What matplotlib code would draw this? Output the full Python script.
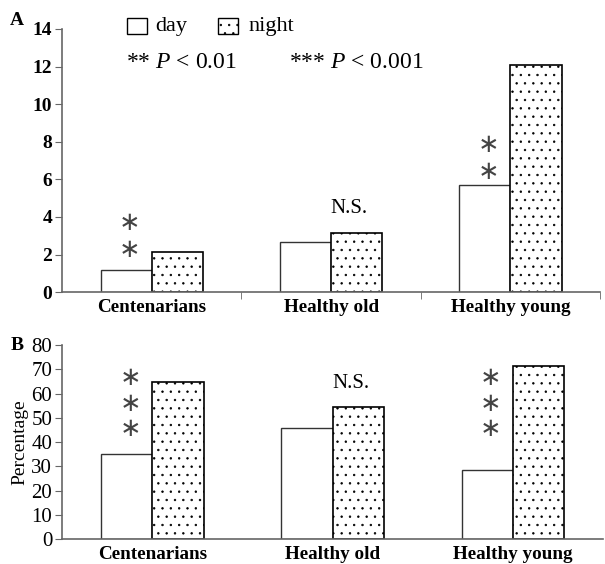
#!/usr/bin/env python3

import numpy as np
import matplotlib
matplotlib.use('Agg')
import matplotlib.pyplot as plt
from matplotlib.patches import Rectangle

groups = ['Centenarians', 'Healthy old', 'Healthy young']
day_a = [1.17, 2.68, 5.69]
night_a = [2.14, 3.15, 12.1]
day_b = [35.0, 45.9, 28.5]
night_b = [64.9, 54.3, 71.4]
stars_a = ['**', 'N.S.', '**']
stars_b = ['***', 'N.S.', '***']

plt.rcParams['font.family'] = ['Liberation Serif', 'DejaVu Serif']
plt.rcParams['hatch.linewidth'] = 0.5
plt.rcParams['mathtext.fontset'] = 'custom'
plt.rcParams['mathtext.it'] = 'Liberation Serif:italic'
plt.rcParams['mathtext.rm'] = 'Liberation Serif'

fig = plt.figure(figsize=(6.05, 5.64), dpi=100)
axA = fig.add_axes([0.1025, 0.482, 0.8895, 0.4666])
axB = fig.add_axes([0.1025, 0.044, 0.8945, 0.344])

x = np.arange(len(groups))
w = 0.285
spine_col = '#666666'


def draw_panel(ax, day, night, marks, ymax, step, star_y, ns_y, star_gap, bold_ticks):
    ax.bar(x - w / 2, day, w, color='white', edgecolor='#333333', linewidth=1.0)
    ax.bar(x + w / 2, night, w, color='white', edgecolor='black', linewidth=1.2,
           hatch='..')
    ax.set_xlim(-0.5, 2.5)
    ax.set_ylim(0, ymax)
    ax.set_yticks(np.arange(0, ymax + step, step))
    for s in ['top', 'right']:
        ax.spines[s].set_visible(False)
    for s in ['left', 'bottom']:
        ax.spines[s].set_color(spine_col)
        ax.spines[s].set_linewidth(1.2)
    ax.tick_params(axis='y', direction='out', length=5, color=spine_col,
                   labelsize=14 if bold_ticks else 15, pad=2)
    if bold_ticks:
        for t in ax.get_yticklabels():
            t.set_fontweight('bold')
    ax.set_xticks(x)
    ax.set_xticklabels(groups, fontsize=13.8, fontweight='bold')
    ax.tick_params(axis='x', length=0, pad=5)
    for i, m in enumerate(marks):
        if m == 'N.S.':
            ax.text(x[i] + 0.1, ns_y, m, ha='center', va='center', fontsize=15)
        else:
            for k in range(len(m)):
                ax.text(x[i] - w / 2 + 0.02, star_y[i] - k * star_gap, '\u2217',
                        ha='center', va='center', fontsize=18.5, color='#444444',
                        family='DejaVu Sans')


draw_panel(axA, day_a, night_a, stars_a, 14, 2, [2.23, 0, 6.38], 4.47, -1.44, True)
axA.set_xticks([0.5, 1.5, 2.5], minor=True)
axA.tick_params(axis='x', which='minor', length=5, color=spine_col, direction='out')

draw_panel(axB, day_b, night_b, stars_b, 80, 10, [45.4, 0, 45.4], 64.2, -10.5, False)
axB.set_ylabel('Percentage', fontsize=14, labelpad=2)

# panel letters
fig.text(0.017, 0.963, 'A', fontsize=14, fontweight='bold', va='center')
fig.text(0.017, 0.388, 'B', fontsize=14, fontweight='bold', va='center')

# legend
fig.patches.append(Rectangle((127 / 605, 1 - 34 / 564), 20 / 605, 16 / 564,
                             transform=fig.transFigure, facecolor='white',
                             edgecolor='black', linewidth=1.0))
fig.patches.append(Rectangle((218 / 605, 1 - 34 / 564), 20 / 605, 16 / 564,
                             transform=fig.transFigure, facecolor='white',
                             edgecolor='black', linewidth=1.0, hatch='..'))
fig.text(155 / 605, 1 - 26 / 564, 'day', fontsize=16, va='center')
fig.text(248 / 605, 1 - 26 / 564, 'night', fontsize=16, va='center')
fig.text(126 / 605, 1 - 63 / 564, r'** $P$ < 0.01', fontsize=17, va='center')
fig.text(289 / 605, 1 - 63 / 564, r'*** $P$ < 0.001', fontsize=17, va='center')

fig.savefig('out.png', dpi=100)
